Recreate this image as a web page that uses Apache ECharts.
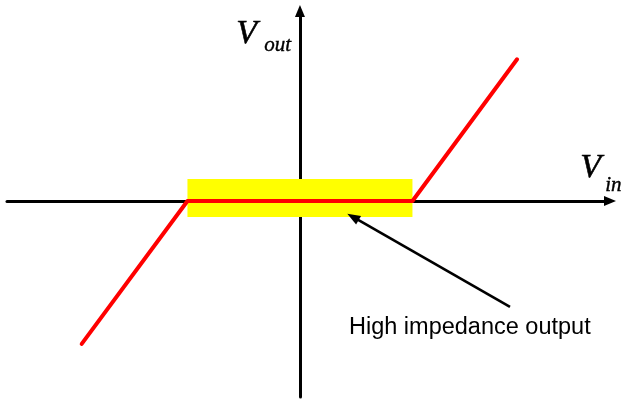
<!DOCTYPE html>
<html><head><meta charset="utf-8">
<script src="https://cdn.jsdelivr.net/npm/echarts@6/dist/echarts.min.js"></script>
<style>html,body{margin:0;padding:0;background:#fff}#c{width:622px;height:399px}</style>
</head><body><div id="c"></div>
<script>
// transfer characteristic (Vin -> Vout), dead band at |Vin| < 1
const vin = [-1.94, -1, 1, 1.93];
const vout = [-1.27, 0, 0, 1.26];
// highlighted high-impedance band
const bandX = [-1, 1];
const bandY = [-0.142, 0.196];
// annotation arrow (from text to band)
const noteFrom = [1.867, -0.942];
const noteTo = [0.471, -0.142];
const noteText = 'High impedance output';
const xLabel = ['V', 'in'];
const yLabel = ['V', 'out'];

const chart = echarts.init(document.getElementById('c'));
const axisCommon = {
  type: 'value',
  axisLine: { show: true, onZero: true, symbol: ['none', 'triangle'], symbolSize: [10, 12],
    lineStyle: { color: '#000', width: 3 } },
  axisTick: { show: false }, axisLabel: { show: false }, splitLine: { show: false }
};
const serifBig = 'italic 34px "Liberation Serif", "Times New Roman", serif';
const serifSub = 'italic 21px "Liberation Serif", "Times New Roman", serif';
chart.setOption({
  animation: false,
  grid: { left: 7, right: 12, top: 11, bottom: 2 },
  xAxis: Object.assign({}, axisCommon, { min: -2.604, max: 2.756 }),
  yAxis: Object.assign({}, axisCommon, { min: -1.742, max: 1.689 }),
  series: [
    {
      type: 'line', z: -1, data: [], silent: true,
      markArea: { silent: true, itemStyle: { color: '#FFFF00', opacity: 1 },
        data: [[{ coord: [bandX[0], bandY[1]] }, { coord: [bandX[1], bandY[0]] }]] }
    },
    {
      type: 'line', z: 3, showSymbol: false, symbol: 'none',
      data: vin.map((v, i) => [v, vout[i]]),
      lineStyle: { color: '#FF0000', width: 4, cap: 'round', join: 'round' },
      markLine: {
        silent: true, symbol: ['none', 'triangle'], symbolSize: [10, 13], label: { show: false },
        lineStyle: { color: '#000', width: 2.6, type: 'solid' },
        data: [[{ coord: noteFrom }, { coord: noteTo }]]
      }
    }
  ],
  graphic: [
    { type: 'text', left: 349, top: 316, style: { text: noteText, font: '23.5px "Liberation Sans", Arial, sans-serif', fill: '#000' } },
    { type: 'text', left: 236, top: 17, style: { text: yLabel[0], font: serifBig, fill: '#000', stroke: '#000', lineWidth: 0.6 } },
    { type: 'text', left: 264, top: 35, style: { text: yLabel[1], font: serifSub, fill: '#000', stroke: '#000', lineWidth: 0.4 } },
    { type: 'text', left: 580, top: 151, style: { text: xLabel[0], font: serifBig, fill: '#000', stroke: '#000', lineWidth: 0.6 } },
    { type: 'text', left: 605, top: 175, style: { text: xLabel[1], font: serifSub, fill: '#000', stroke: '#000', lineWidth: 0.4 } }
  ]
});
</script></body></html>
